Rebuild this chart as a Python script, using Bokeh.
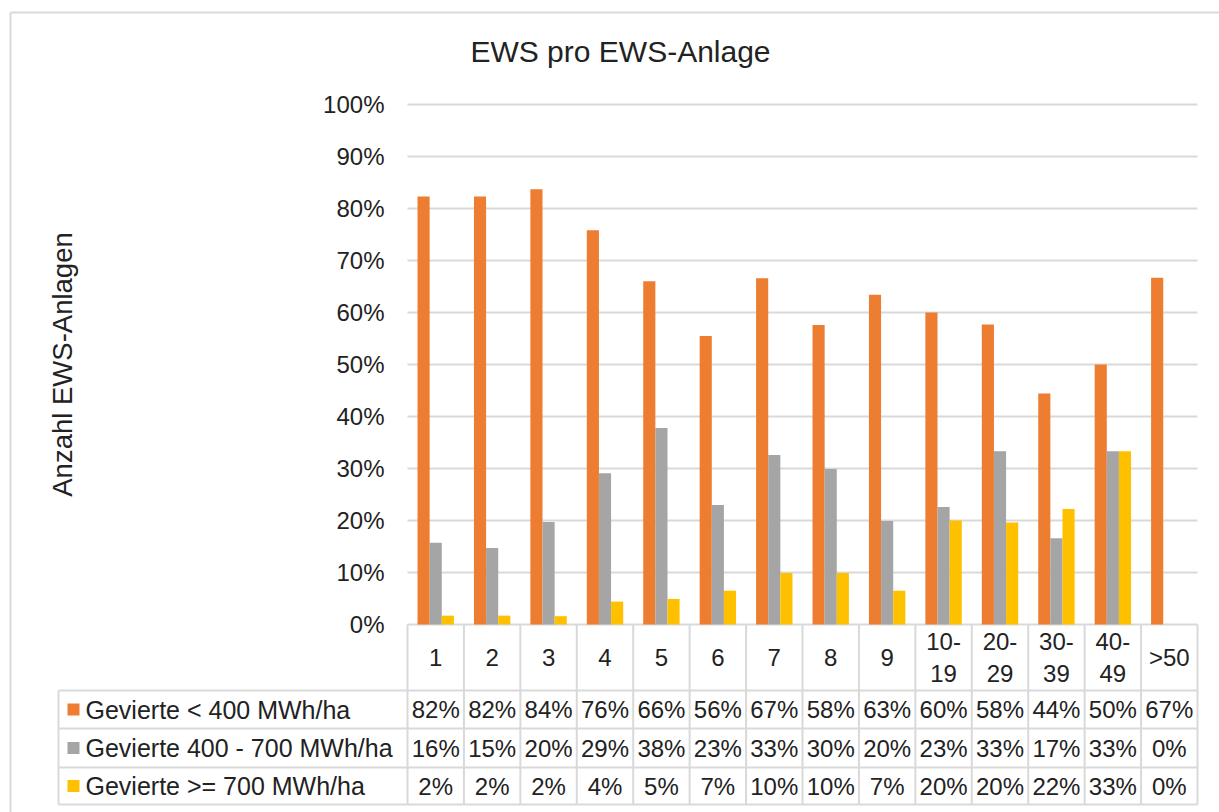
import math
from bokeh.plotting import figure
from bokeh.models import ColumnDataSource, Range1d
from bokeh.transform import dodge
from bokeh.core.properties import value
from bokeh.embed import file_html
from bokeh.resources import INLINE

# ---------------- data ----------------
categories = ["1", "2", "3", "4", "5", "6", "7", "8", "9",
              "10-19", "20-29", "30-39", "40-49", ">50"]
series_names = ["Gevierte < 400 MWh/ha",
                "Gevierte 400 - 700 MWh/ha",
                "Gevierte >= 700 MWh/ha"]
share_low = [0.823, 0.823, 0.837, 0.758, 0.660, 0.555, 0.666, 0.576, 0.634,
             0.600, 0.577, 0.444, 0.500, 0.667]
share_mid = [0.157, 0.147, 0.197, 0.291, 0.378, 0.230, 0.326, 0.299, 0.199,
             0.226, 0.333, 0.166, 0.333, 0.0]
share_high = [0.017, 0.017, 0.016, 0.044, 0.049, 0.065, 0.099, 0.099, 0.065,
              0.200, 0.196, 0.222, 0.333, 0.0]
y_ticks = [0.0, 0.1, 0.2, 0.3, 0.4, 0.5, 0.6, 0.7, 0.8, 0.9, 1.0]
tick_labels = [f"{int(round(t * 100))}%" for t in y_ticks]
title_text = "EWS pro EWS-Anlage"
y_label = "Anzahl EWS-Anlagen"

# ---------------- styling / layout (page pixels) ----------------
colors = ["#ED7D31", "#A5A5A5", "#FFC000"]
FONT = "Liberation Sans"
TXT = "#222222"
GRID = "#d9d9d9"

W, H = 1219, 812
N = len(categories)
X0 = 407                  # left edge of the plot / table columns
COL_W = 790 / N           # width of one category column
Y0 = 624                  # the 0 % line
PX_PER_UNIT = 520         # pixels for 100 %
BAR_W = 0.215
row_edges = [624, 690, 728, 767, 804]   # table row boundaries


def ux(px):
    return (px - X0) / COL_W


def uy(py):
    return (Y0 - py) / PX_PER_UNIT


p = figure(width=W, height=H, title=None,
           x_range=Range1d(ux(0), ux(W)), y_range=Range1d(uy(H), uy(0)),
           output_backend="svg", toolbar_location=None,
           x_axis_location=None, y_axis_location=None,
           min_border=0, outline_line_color=None)
p.grid.visible = False

# chart border
p.segment(x0=[ux(10), ux(10)], y0=[uy(12), uy(12)],
          x1=[ux(10), ux(W)], y1=[uy(H), uy(12)],
          line_color=GRID, line_width=2)

# gridlines
p.segment(x0=[0] * len(y_ticks), x1=[N] * len(y_ticks), y0=y_ticks, y1=y_ticks,
          line_color=GRID, line_width=2)

# y tick labels
p.text(x=[ux(384)] * len(y_ticks), y=y_ticks, text=tick_labels,
       text_align="right", text_baseline="middle",
       text_font=value(FONT), text_font_size="24px", text_color=TXT)

# title and axis label
p.text(x=[ux(620)], y=[uy(51)], text=[title_text],
       text_align="center", text_baseline="middle",
       text_font=value(FONT), text_font_size="30px", text_color=TXT)
p.text(x=[ux(62)], y=[uy(364)], text=[y_label], angle=math.pi / 2,
       text_align="center", text_baseline="middle",
       text_font=value(FONT), text_font_size="27.5px", text_color=TXT)

# bars
centers = [i + 0.5 for i in range(N)]
src = ColumnDataSource(dict(x=centers, low=share_low, mid=share_mid, high=share_high))
for off, col, clr in zip([-BAR_W, 0, BAR_W], ["low", "mid", "high"], colors):
    p.vbar(x=dodge("x", off), top=col, width=BAR_W, bottom=0,
           source=src, fill_color=clr, line_color=None)

# ---------------- data table ----------------
h_y = [uy(v) for v in row_edges[1:]]
p.segment(x0=[ux(58)] * len(h_y), x1=[N] * len(h_y), y0=h_y, y1=h_y,
          line_color=GRID, line_width=2)
v_x = list(range(N + 1))
p.segment(x0=v_x, x1=v_x, y0=[uy(row_edges[0])] * len(v_x), y1=[uy(row_edges[-1])] * len(v_x),
          line_color=GRID, line_width=2)
p.segment(x0=[ux(58)], x1=[ux(58)], y0=[uy(row_edges[1])], y1=[uy(row_edges[-1])],
          line_color=GRID, line_width=2)

header_labels = [c.replace("-", "-\n") for c in categories]
p.text(x=centers, y=[uy((row_edges[0] + row_edges[1]) / 2)] * N, text=header_labels,
       text_align="center", text_baseline="middle", text_line_height=1.15,
       text_font=value(FONT), text_font_size="24px", text_color=TXT)

row_centers = [uy((row_edges[r + 1] + row_edges[r + 2]) / 2) for r in range(3)]
for r, series in enumerate([share_low, share_mid, share_high]):
    labels = [f"{int(v * 100 + 0.5)}%" for v in series]
    p.text(x=centers, y=[row_centers[r]] * N, text=labels,
           text_align="center", text_baseline="middle",
           text_font=value(FONT), text_font_size="24px", text_color=TXT)

p.scatter(x=[ux(73)] * 3, y=row_centers, marker="square", size=12,
          fill_color=colors, line_color=None)
p.text(x=[ux(85)] * 3, y=row_centers, text=series_names,
       text_align="left", text_baseline="middle",
       text_font=value(FONT), text_font_size="25px", text_color=TXT)

open("out.html", "w").write(file_html(p, INLINE))
